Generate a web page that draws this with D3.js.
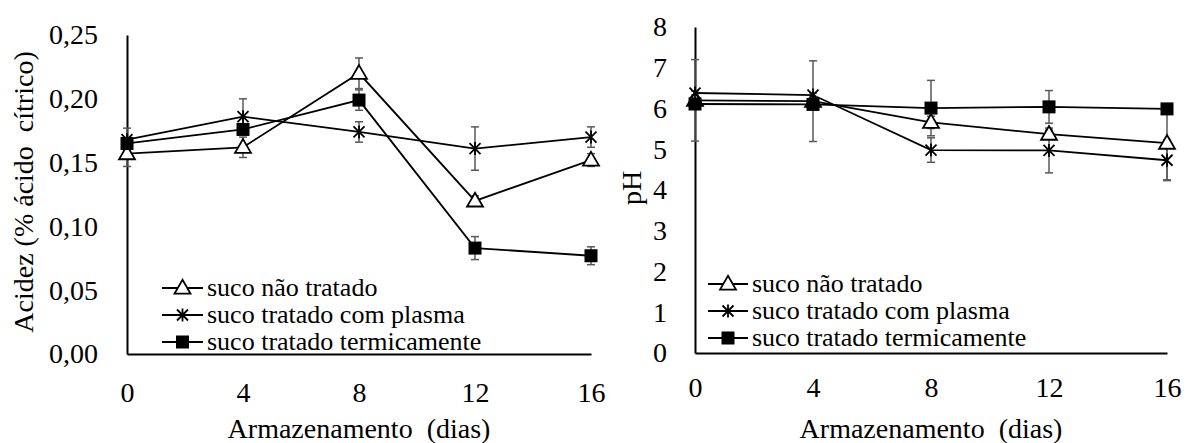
<!DOCTYPE html>
<html>
<head>
  <meta charset="utf-8">
  <title>Acidez e pH</title>
  <script src="https://d3js.org/d3.v7.min.js"></script>
  <style>
    html, body { margin: 0; background: #fff; }
  </style>
</head>
<body>
<script>
  // dias de armazenamento
  var dias = [0, 4, 8, 12, 16];
  var nomes = ['suco não tratado', 'suco tratado com plasma', 'suco tratado termicamente'];

  // acidez (% ácido cítrico)
  var acidezNaoTratado = [0.157, 0.162, 0.220, 0.120, 0.152];
  var acidezPlasma     = [0.168, 0.186, 0.174, 0.161, 0.170];
  var acidezTermico    = [0.165, 0.176, 0.199, 0.083, 0.077];
  var acidezErroNaoTratado = [0.010, 0.008, 0.012, 0.004, 0.005];
  var acidezErroPlasma     = [0.009, 0.014, 0.008, 0.017, 0.008];
  var acidezErroTermico    = [0.004, 0.004, 0.008, 0.009, 0.007];
  var acidezTicks = [0, 0.05, 0.10, 0.15, 0.20, 0.25];

  // pH
  var phNaoTratado = [6.20, 6.18, 5.66, 5.37, 5.15];
  var phPlasma     = [6.38, 6.33, 4.98, 4.97, 4.73];
  var phTermico    = [6.11, 6.10, 6.01, 6.04, 5.99];
  var phErroNaoTratado = [1.00, 0.99, 0.15, 0.10, 0.90];
  var phErroPlasma     = [0.05, 0.05, 0.30, 0.55, 0.50];
  var phErroTermico    = [0.05, 0.05, 0.68, 0.40, 0.10];
  var phTicks = [0, 1, 2, 3, 4, 5, 6, 7, 8];

  var fonte = '"Liberation Serif", "Times New Roman", serif';
  var width = 1190, height = 443;
  var svg = d3.select('body').append('svg')
    .attr('width', width)
    .attr('height', height)
    .style('font-family', fonte);

  var simbolos = ['triangulo', 'estrela', 'quadrado'];

  function marcador(g, tipo, cx, cy) {
    if (tipo == 'triangulo') {
      g.append('path')
        .attr('d', d3.symbol().type(d3.symbolTriangle).size(110)())
        .attr('transform', 'translate(' + cx + ',' + (cy + 1) + ')')
        .attr('fill', '#fff').attr('stroke', '#000').attr('stroke-width', 1.8);
    } else if (tipo == 'estrela') {
      var r = 5.5;
      var p = 'M' + (cx - r) + ',' + (cy - r) + 'L' + (cx + r) + ',' + (cy + r)
            + 'M' + (cx - r) + ',' + (cy + r) + 'L' + (cx + r) + ',' + (cy - r)
            + 'M' + cx + ',' + (cy - r - 1) + 'L' + cx + ',' + (cy + r + 1);
      g.append('path').attr('d', p).attr('stroke', '#000').attr('stroke-width', 1.8).attr('fill', 'none');
    } else {
      g.append('rect')
        .attr('x', cx - 6.5).attr('y', cy - 6.5)
        .attr('width', 13).attr('height', 13)
        .attr('fill', '#000');
    }
  }

  function estiloEixo(a) {
    a.attr('font-family', fonte);
    a.select('.domain').attr('stroke', '#000').attr('stroke-width', 2);
    a.selectAll('text').style('font-size', '28px').style('font-family', fonte).attr('fill', '#000');
  }

  function painel(cfg) {
    var x = d3.scaleLinear().domain([0, 16]).range(cfg.xr);
    var y = d3.scaleLinear().domain(cfg.yd).range(cfg.yr);
    var g = svg.append('g');

    // eixos
    g.append('g')
      .attr('transform', 'translate(0,' + cfg.yr[0] + ')')
      .call(d3.axisBottom(x).tickValues(dias).tickSize(0).tickPadding(cfg.xpad))
      .call(estiloEixo);
    g.append('g')
      .attr('transform', 'translate(' + cfg.xr[0] + ',0)')
      .call(d3.axisLeft(y).tickValues(cfg.ticks).tickSize(0).tickPadding(cfg.ypad).tickFormat(cfg.fmt))
      .call(estiloEixo);

    // linhas
    var linha = d3.line().x(function (d, i) { return x(dias[i]); }).y(function (d) { return y(d); });
    cfg.series.forEach(function (s) {
      g.append('path').attr('d', linha(s)).attr('fill', 'none')
        .attr('stroke', '#000').attr('stroke-width', 1.8);
    });

    // barras de erro
    cfg.series.forEach(function (s, k) {
      s.forEach(function (v, i) {
        var e = cfg.erros[k][i];
        var cx = x(dias[i]);
        var eg = g.append('g').attr('stroke', '#595959').attr('stroke-width', 1.5);
        eg.append('line').attr('x1', cx).attr('x2', cx).attr('y1', y(v - e)).attr('y2', y(v + e));
        eg.append('line').attr('x1', cx - 4).attr('x2', cx + 4).attr('y1', y(v - e)).attr('y2', y(v - e));
        eg.append('line').attr('x1', cx - 4).attr('x2', cx + 4).attr('y1', y(v + e)).attr('y2', y(v + e));
      });
    });

    // marcadores
    cfg.series.forEach(function (s, k) {
      s.forEach(function (v, i) {
        marcador(g, simbolos[k], x(dias[i]), y(v));
      });
    });

    // titulos
    g.append('text')
      .attr('x', (cfg.xr[0] + cfg.xr[1]) / 2).attr('y', cfg.xtitleY)
      .attr('text-anchor', 'middle')
      .style('font-size', '28px').style('font-family', fonte).style('white-space', 'pre')
      .text('Armazenamento  (dias)');
    g.append('text')
      .attr('transform', 'translate(' + cfg.ytitle[0] + ',' + cfg.ytitle[1] + ') rotate(-90)')
      .attr('text-anchor', 'middle')
      .style('font-size', '28px').style('font-family', fonte).style('white-space', 'pre')
      .text(cfg.ylabel);

    // legenda
    var lg = g.append('g');
    nomes.forEach(function (n, k) {
      var ly = cfg.leg.rows[k];
      lg.append('line').attr('x1', cfg.leg.x0).attr('x2', cfg.leg.x1)
        .attr('y1', ly).attr('y2', ly).attr('stroke', '#000').attr('stroke-width', 1.8);
      marcador(lg, simbolos[k], (cfg.leg.x0 + cfg.leg.x1) / 2, ly);
      lg.append('text').attr('x', cfg.leg.x1 + 4).attr('y', ly).attr('dy', '0.3em')
        .style('font-size', cfg.leg.size).style('font-family', fonte).text(n);
    });
  }

  var virgula = function (d) { return d3.format('.2f')(d).replace('.', ','); };

  painel({
    xr: [127, 591], yd: [0, 0.25], yr: [354, 35],
    xpad: 28, ypad: 29, ticks: acidezTicks, fmt: virgula,
    series: [acidezNaoTratado, acidezPlasma, acidezTermico],
    erros: [acidezErroNaoTratado, acidezErroPlasma, acidezErroTermico],
    xtitleY: 438, ytitle: [33, 192], ylabel: 'Acidez (% ácido  cítrico)',
    leg: { x0: 162, x1: 203, rows: [288, 315, 342], size: '26px' }
  });

  painel({
    xr: [695, 1167], yd: [0, 8], yr: [353, 27],
    xpad: 24, ypad: 28, ticks: phTicks, fmt: d3.format('d'),
    series: [phNaoTratado, phPlasma, phTermico],
    erros: [phErroNaoTratado, phErroPlasma, phErroTermico],
    xtitleY: 438, ytitle: [641, 188], ylabel: 'pH',
    leg: { x0: 708, x1: 748, rows: [284, 311, 338], size: '26px' }
  });
</script>
</body>
</html>
